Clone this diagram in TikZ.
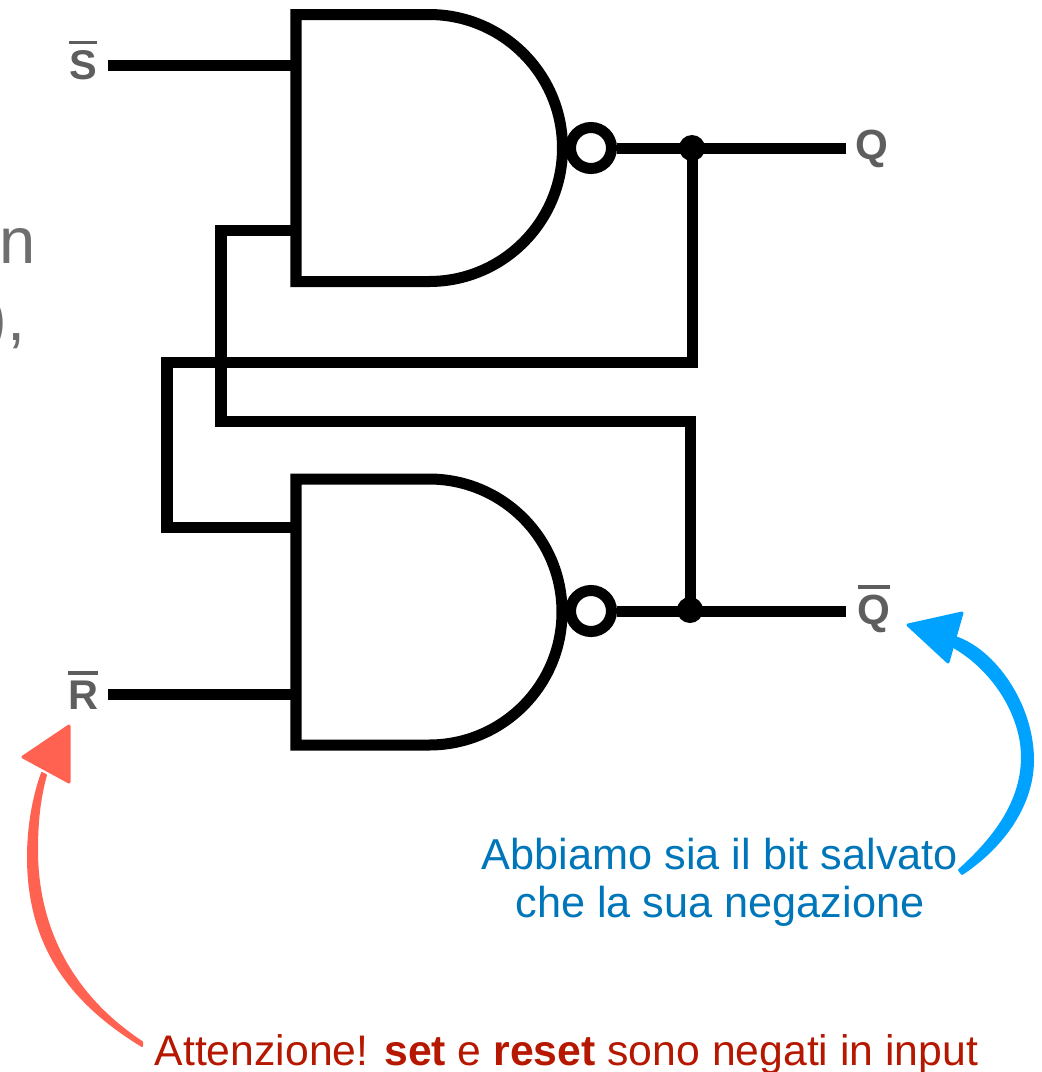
\documentclass[tikz,border=0pt]{standalone}
\usepackage{fontspec}
\setmainfont{Liberation Sans}
\usetikzlibrary{positioning,calc}

\definecolor{arrowred}{HTML}{FF6250}
\definecolor{arrowblue}{HTML}{00A2FF}
\definecolor{textred}{HTML}{B51700}
\definecolor{textblue}{HTML}{0076BA}
\definecolor{labelgray}{HTML}{5E5E5E}
\definecolor{cutgray}{HTML}{6E6E6E}

\newcommand{\negbit}[1]{\vbox{\hrule height 1pt \kern 1.7pt \hbox{\textbf{#1}}}}

\tikzset{
    wire/.style={line width=0.11cm,black},
    gate/.style={line width=0.11cm,draw=black,fill=white},
    bubble/.style={circle,draw=black,fill=white,line width=0.11cm,minimum size=0.41cm,inner sep=0pt},
    junction/.style={circle,fill=black,minimum size=0.26cm,inner sep=0pt},
    siglabel/.style={text=labelgray,font=\fontsize{11.8}{13}\selectfont,inner sep=0pt},
    note/.style={inner sep=0pt},
    cuttext/.style={text=cutgray,font=\fontsize{18.5}{22}\selectfont,inner sep=0pt},
    sketch/.style={line width=0.02cm,line join=round},
    sketchhead/.style={line width=0.03cm,line join=round},
}

\begin{document}
\begin{tikzpicture}[x=0.01cm,y=-0.01cm]
    \useasboundingbox (0,0) rectangle (1042,1072);

    % Testo tagliato a sinistra
    \node[cuttext,anchor=base west] (cutA) at (-1,263) {n};
    \node[cuttext,anchor=base east] (cutB) at (26,340) {),};

    % Porte NAND
    \draw[gate] (296,14.5) -- (429,14.5) arc[start angle=-90,end angle=90,radius=133.5] -- (296,281.5) -- cycle;
    \draw[gate] (296,479) -- (429,479) arc[start angle=-90,end angle=90,radius=133] -- (296,745) -- cycle;
    \node[bubble] (bubA) at (591,148) {};
    \node[bubble] (bubB) at (591,611) {};

    % Punti di collegamento
    \coordinate (inS) at (108,65);
    \coordinate (portS) at (296,65);
    \coordinate (inR) at (108,694);
    \coordinate (portR) at (296,694);
    \coordinate (portA) at (296,230);
    \coordinate (portB) at (296,527);
    \coordinate (crossA) at (167,362);
    \coordinate (crossB) at (221,421);
    \coordinate (outQ) at (846,148);
    \coordinate (outN) at (846,611);

    \node[junction] (juncA) at (692,148) {};
    \node[junction] (juncB) at (690,610) {};

    % Fili
    \draw[wire] (inS) -- (portS);
    \draw[wire] (inR) -- (portR);
    \draw[wire] (bubA) -- (outQ);
    \draw[wire] (bubB) -- (outN);
    \draw[wire] (juncA.center) |- (crossA) |- (portB);
    \draw[wire] (juncB.center) |- (crossB) |- (portA);

    % Etichette
    \node[siglabel] (labS) at (83,60) {\negbit{S}};
    \node[siglabel] (labR) at (83,690) {\negbit{R}};
    \node[siglabel,font=\fontsize{12}{13}\selectfont] (labQ) at (872,149) {\textbf{Q}};
    \node[siglabel,font=\fontsize{12}{13}\selectfont] (labN) at (874,609) {\negbit{Q}};

    % Freccia rossa
    \filldraw[arrowred,sketch] (142,1046) .. controls (75,1005) and (28,950) .. (28,857) .. controls (28,825) and (34,795) .. (42,773)
        -- (46,775) .. controls (39,800) and (37,825) .. (37,850) .. controls (37,935) and (78,1000) .. (142,1042) -- cycle;
    \filldraw[arrowred,sketchhead] (69,726) -- (23,757) -- (69,782) -- cycle;

    % Freccia blu
    \filldraw[arrowblue,sketch] (955,637) .. controls (995,650) and (1033,705) .. (1033,760) .. controls (1033,805) and (1003,847) .. (962,874)
        -- (959,870) .. controls (990,842) and (1022,805) .. (1022,757) .. controls (1022,715) and (993,668) .. (950,645) -- cycle;
    \filldraw[arrowblue,sketchhead] (962,613) -- (908,625) -- (948,662) -- cycle;

    % Note
    \node[note,text=textblue,font=\fontsize{12.3}{13.4}\selectfont,align=center,anchor=base] (noteQ) at (720,917) {Abbiamo sia il bit salvato\\che la sua negazione};
    \node[note,text=textred,font=\fontsize{12.15}{13.4}\selectfont,anchor=base west] (noteR) at (154,1065) {Attenzione! \textbf{set} e \textbf{reset} sono negati in input};
\end{tikzpicture}
\end{document}
